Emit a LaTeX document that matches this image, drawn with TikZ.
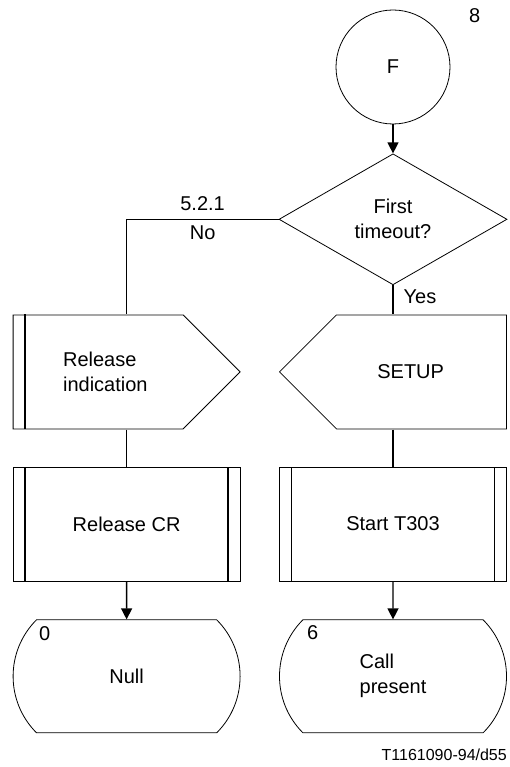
\documentclass[tikz,border=0pt]{standalone}
\usepackage{fontspec}
\setmainfont{Liberation Sans}
\usepackage{tikz}
\usetikzlibrary{shapes.geometric,shapes.misc,arrows.meta,positioning}

\begin{document}
\begin{tikzpicture}[
    x=1pt, y=1pt,
    every node/.style={font=\fontsize{20}{25}\selectfont, inner sep=0pt},
    connector/.style={circle, draw, line width=0.8pt, minimum size=114pt},
    decision/.style={diamond, draw, line width=0.8pt, minimum width=228pt, minimum height=131pt, aspect=1.74, align=center},
    inputsig/.style={rectangle, minimum width=228pt, minimum height=115pt, text width=127pt, align=left,
      path picture={
        \draw[line width=0.8pt] ([xshift=0.5pt, yshift=-0.5pt]path picture bounding box.north west)
          -- ([xshift=-57.5pt, yshift=-0.5pt]path picture bounding box.north east)
          -- ([xshift=-0.5pt]path picture bounding box.east)
          -- ([xshift=-57.5pt, yshift=0.5pt]path picture bounding box.south east)
          -- ([xshift=0.5pt, yshift=0.5pt]path picture bounding box.south west) -- cycle;
        \draw[line width=1.4pt] ([xshift=12.5pt]path picture bounding box.north west) -- ([xshift=12.5pt]path picture bounding box.south west);}},
    outputsig/.style={rectangle, minimum width=228pt, minimum height=115pt, text width=102pt, align=right,
      path picture={
        \draw[line width=0.8pt] ([xshift=-0.5pt, yshift=-0.5pt]path picture bounding box.north east)
          -- ([xshift=57.5pt, yshift=-0.5pt]path picture bounding box.north west)
          -- ([xshift=0.5pt]path picture bounding box.west)
          -- ([xshift=57.5pt, yshift=0.5pt]path picture bounding box.south west)
          -- ([xshift=-0.5pt, yshift=0.5pt]path picture bounding box.south east) -- cycle;}},
    taskbox/.style={rectangle, draw, line width=0.8pt, minimum width=227pt, minimum height=114pt, align=center,
      path picture={\draw[line width=1.4pt] ([xshift=12pt]path picture bounding box.north west) -- ([xshift=12pt]path picture bounding box.south west)
                                            ([xshift=-12pt]path picture bounding box.north east) -- ([xshift=-12pt]path picture bounding box.south east);}},
    statebox/.style={rounded rectangle, rounded rectangle arc length=90, draw, line width=0.8pt, minimum width=227pt, minimum height=113pt, align=left},
    line/.style={line width=1.3pt},
    flow/.style={line width=1.3pt, -{Triangle[length=11pt, width=11pt]}}
  ]
    \useasboundingbox (0,0) rectangle (510,-767);

    \node[connector] (conn) at (393,-67) {F};
    \node[anchor=base west] (pagenum) at (469,-23) {8};
    \node[decision, below=29pt of conn] (first) {First\\timeout?};

    \node[outputsig, below=29pt of first] (setup) {SETUP};
    \node[inputsig, left=38pt of setup] (relind) {Release\\indication};

    \node[taskbox, below=37pt of relind] (relcr) {Release CR};
    \node[taskbox, below=37pt of setup] (start) {Start T303};

    \node[statebox, below=38pt of relcr] (null) {Null};
    \node[statebox, below=38pt of start] (callp) {Call\\present};
    \node[anchor=base west] (nullnum) at (39,-640) {0};
    \node[anchor=base west] (callnum) at (307,-639) {6};

    \node[anchor=base east, font=\fontsize{16}{19}\selectfont] (fignum) at (507,-760) {T1161090-94/d55};

    \draw[flow] (conn) -- (first);
    \draw[line] (first.west) -| node[pos=0.25, above=8pt] {5.2.1} node[pos=0.25, below=6pt] {No} (relind.north);
    \draw[line] (first.south) -- node[pos=0.15, anchor=north west, xshift=10pt] {Yes} (setup.north);
    \draw[line] (relind) -- (relcr);
    \draw[line] (setup) -- (start);
    \draw[flow] (relcr) -- (null);
    \draw[flow] (start) -- (callp);
  \end{tikzpicture}
\end{document}
